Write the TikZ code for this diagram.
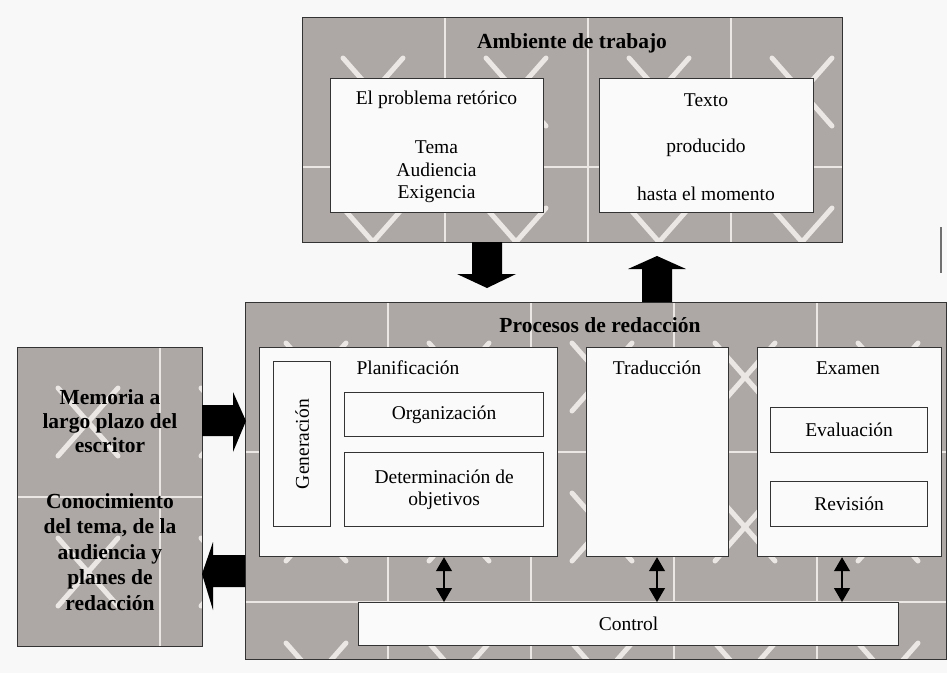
\documentclass[tikz,border=0pt]{standalone}
\usepackage{fontspec}
\setmainfont{Liberation Serif}
\usetikzlibrary{arrows.meta,calc}
\definecolor{boxgray}{HTML}{ADA8A5}
\definecolor{wmcol}{HTML}{EAE7E5}
\definecolor{bgcol}{HTML}{F8F8F8}
\definecolor{edgecol}{HTML}{333333}
\definecolor{papercol}{HTML}{FAFAFA}
\newcommand{\wmtiles}[4]{%
  \begin{scope}
    \clip (#1,#2) rectangle (#3,#4);
    \fill[boxgray] (#1,#2) rectangle (#3,#4);
    \foreach \i in {1,...,5} {\draw[wmgrid] (#1+143*\i,#2) -- (#1+143*\i,#4);}
    \foreach \j in {1,2} {\draw[wmgrid] (#1,#2+150*\j) -- (#3,#2+150*\j);}
    \foreach \i in {0,...,5} {\foreach \j in {0,1,2} {
      \draw[wmx] (#1+71+143*\i-30,#2+75+150*\j-34) -- (#1+71+143*\i+30,#2+75+150*\j+34)
                 (#1+71+143*\i-30,#2+75+150*\j+34) -- (#1+71+143*\i+30,#2+75+150*\j-34);
    }}
  \end{scope}}
\tikzset{
  wmgrid/.style={draw=wmcol, line width=1.2pt},
  wmx/.style={draw=wmcol, line width=5pt, line cap=round},
  grayframe/.style={draw=edgecol, line width=1.4pt, inner sep=0pt, anchor=north west},
  whitebox/.style={draw=edgecol, fill=papercol, line width=1.2pt, inner sep=0pt, anchor=north west},
  txt/.style={font=\fontsize{19.5}{22.5}\selectfont, align=center, inner sep=0pt},
  btxt/.style={font=\fontsize{21.5}{22}\selectfont\bfseries, align=center, inner sep=0pt},
  blockarrow/.style={fill=black, draw=none},
  dblarrow/.style={line width=1.2pt, {Triangle[width=16pt,length=14pt]}-{Triangle[width=16pt,length=14pt]}}
}
\begin{document}
\begin{tikzpicture}[x=1pt, y=-1pt]
  \fill[bgcol] (0,0) rectangle (947,673);
  \useasboundingbox (0,0) rectangle (947,673);

  % watermarked gray boxes
  \wmtiles{302}{17}{842}{242}
  \wmtiles{245}{302}{946}{659}
  \wmtiles{17}{347}{202}{646}

  \node[grayframe, minimum width=540, minimum height=225] (amb) at (302,17) {};
  \node[grayframe, minimum width=701, minimum height=357] (proc) at (245,302) {};
  \node[grayframe, minimum width=185, minimum height=299] (mem) at (17,347) {};

  % Ambiente de trabajo
  \node[btxt] (ambt) at (572,43) {Ambiente de trabajo};
  \node[whitebox, minimum width=213, minimum height=134] (prob) at (330,78) {};
  \node[whitebox, minimum width=214, minimum height=134] (texto) at (599,78) {};
  \node[txt] (probt) at (436.5,100) {El problema retórico};
  \node[txt] (probl) at (436.5,172) {Tema\\Audiencia\\Exigencia};
  \node[txt] (tx1) at (706,100) {Texto};
  \node[txt] (tx2) at (706,148) {producido};
  \node[txt] (tx3) at (706,194) {hasta el momento};

  % Procesos de redacción
  \node[btxt] (proct) at (600,325) {Procesos de redacción};
  \node[whitebox, minimum width=298, minimum height=209] (plan) at (259,347) {};
  \node[whitebox, minimum width=57, minimum height=165] (gen) at (273,361) {};
  \node[whitebox, minimum width=199, minimum height=44] (org) at (344,392) {};
  \node[whitebox, minimum width=199, minimum height=74] (det) at (344,452) {};
  \node[whitebox, minimum width=142, minimum height=209] (trad) at (586,347) {};
  \node[whitebox, minimum width=184, minimum height=209] (exam) at (757,347) {};
  \node[whitebox, minimum width=157, minimum height=45] (eval) at (770,407) {};
  \node[whitebox, minimum width=157, minimum height=45] (rev) at (770,481) {};
  \node[whitebox, minimum width=540, minimum height=43] (ctl) at (358,602) {};

  \node[txt] (plant) at (408,368) {Planificación};
  \node[txt, rotate=90] (gent) at (gen.center) {Generación};
  \node[txt] (orgt) at (org.center) {Organización};
  \node[txt] (dett) at (det.center) {Determinación de\\objetivos};
  \node[txt] (tradt) at (657,368) {Traducción};
  \node[txt] (examt) at (848,368) {Examen};
  \node[txt] (evalt) at (eval.center) {Evaluación};
  \node[txt] (revt) at (rev.center) {Revisión};
  \node[txt] (ctlt) at (ctl.center) {Control};

  % Memoria
  \node[btxt, font=\fontsize{21.5}{24}\selectfont\bfseries] (mem1) at (110,421) {Memoria a\\largo plazo del\\escritor};
  \node[btxt, font=\fontsize{21.5}{25.5}\selectfont\bfseries] (mem2) at (110,552) {Conocimiento\\del tema, de la\\audiencia y\\planes de\\redacción};

  % block arrows
  \fill[blockarrow] (472,242) -- (472,274) -- (457,274) -- (487,288) -- (516,274) -- (502,274) -- (502,242) -- cycle;
  \fill[blockarrow] (642,302) -- (642,269) -- (628,269) -- (657,256) -- (686,269) -- (672,269) -- (672,302) -- cycle;
  \fill[blockarrow] (202,405) -- (233,405) -- (233,392) -- (246,421) -- (233,452) -- (233,436) -- (202,436) -- cycle;
  \fill[blockarrow] (245,555) -- (213,555) -- (213,542) -- (202,574) -- (213,610) -- (213,587) -- (245,587) -- cycle;

  % double arrows to Control
  \coordinate (c1) at (444,0);
  \coordinate (c2) at (657,0);
  \coordinate (c3) at (842,0);
  \draw[dblarrow] (c1 |- plan.south) -- (c1 |- ctl.north);
  \draw[dblarrow] (c2 |- trad.south) -- (c2 |- ctl.north);
  \draw[dblarrow] (c3 |- exam.south) -- (c3 |- ctl.north);

  % small mark at right
  \draw[edgecol!70, line width=1.5pt] (941,227) -- (941,273);
\end{tikzpicture}
\end{document}
